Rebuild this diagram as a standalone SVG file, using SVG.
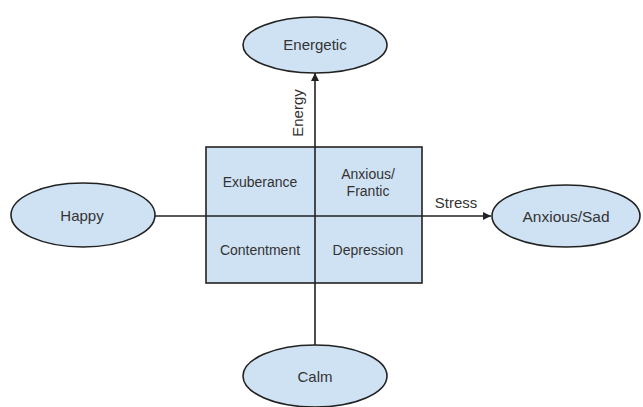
<svg xmlns="http://www.w3.org/2000/svg" width="643" height="407" viewBox="0 0 643 407">
<style>
.node{fill:#cfe2f3;stroke:#222;stroke-width:1.6}
.lbl{font-family:"Liberation Sans",Arial,sans-serif;fill:#333;text-anchor:middle;dominant-baseline:central}
.conn{stroke:#222;stroke-width:1.6;fill:none}
</style>
<defs>
<marker id="arr" viewBox="0 0 10 10" refX="10" refY="5" markerWidth="5" markerHeight="5" orient="auto" markerUnits="strokeWidth">
<path d="M0,0 L10,5 L0,10 z" fill="#222"/>
</marker>
</defs>
<rect width="643" height="407" fill="#fff"/>
<g id="grid">
<rect class="node" x="206" y="147" width="216" height="136"/>
</g>
<g id="exuberance"><text class="lbl" x="260" y="182" font-size="14">Exuberance</text></g>
<g id="anxious-frantic"><text class="lbl" x="368" y="174" font-size="14">Anxious/</text><text class="lbl" x="368" y="191" font-size="14">Frantic</text></g>
<g id="contentment"><text class="lbl" x="260" y="250" font-size="14">Contentment</text></g>
<g id="depression"><text class="lbl" x="368" y="250" font-size="14">Depression</text></g>
<g id="connectors">
<line class="conn" x1="315" y1="345" x2="315" y2="73" marker-end="url(#arr)"/>
<line class="conn" x1="155" y1="216" x2="491" y2="216" marker-end="url(#arr)"/>
<text class="lbl" x="0" y="0" font-size="15" transform="translate(297,113) rotate(-90)">Energy</text>
<text class="lbl" x="456" y="202" font-size="15">Stress</text>
</g>
<g id="energetic"><ellipse class="node" cx="315" cy="45" rx="72" ry="28"/><text class="lbl" x="315" y="44" font-size="15">Energetic</text></g>
<g id="happy"><ellipse class="node" cx="83" cy="215" rx="72" ry="32"/><text class="lbl" x="82" y="215" font-size="15">Happy</text></g>
<g id="anxious-sad"><ellipse class="node" cx="566" cy="216" rx="74" ry="31"/><text class="lbl" x="566" y="216" font-size="15.5">Anxious/Sad</text></g>
<g id="calm"><ellipse class="node" cx="315" cy="376" rx="72" ry="31"/><text class="lbl" x="315" y="376" font-size="15">Calm</text></g>
</svg>
